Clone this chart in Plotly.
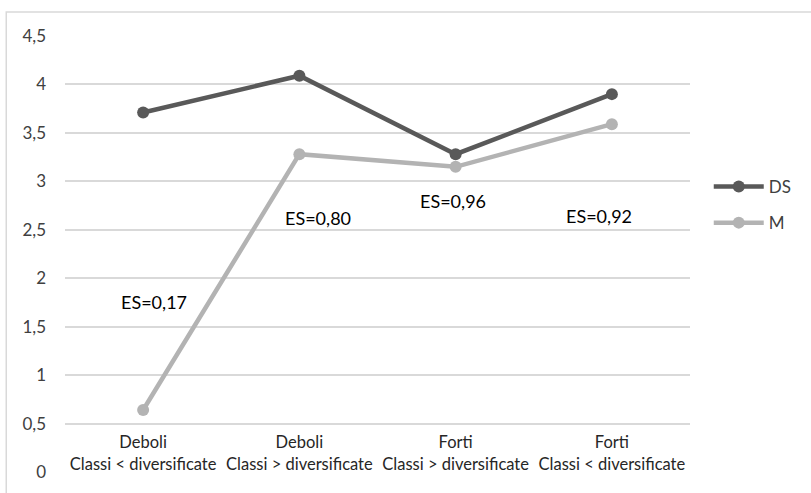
import plotly.graph_objects as go

# Groups (two-line category labels)
group_top = ["Deboli", "Deboli", "Forti", "Forti"]
group_bottom = ["Classi &lt; diversificate", "Classi &gt; diversificate",
                "Classi &gt; diversificate", "Classi &lt; diversificate"]
categories = [f"{a}<br>{b}" for a, b in zip(group_top, group_bottom)]

# Series values
ds_values = [3.71, 4.09, 3.28, 3.90]
m_values = [0.64, 3.28, 3.15, 3.59]

# Effect-size labels and where they sit (category offset, y value)
es_labels = ["ES=0,17", "ES=0,80", "ES=0,96", "ES=0,92"]
es_x = [0.07, 1.12, 1.98, 2.92]
es_y = [1.75, 2.62, 2.80, 2.645]

y_ticks = [0, 0.5, 1, 1.5, 2, 2.5, 3, 3.5, 4, 4.5]

FONT = "Lato"
TXT = "#404040"
GRID = "#d9d9d9"

fig = go.Figure()
fig.add_trace(go.Scatter(
    x=categories, y=ds_values, name="DS", mode="lines+markers", legendgroup="ds",
    line=dict(color="#595959", width=4.5),
    marker=dict(color="#595959", size=12),
))
fig.add_trace(go.Scatter(
    x=categories, y=m_values, name="M", mode="lines+markers", legendgroup="m",
    line=dict(color="#b3b3b3", width=4.5),
    marker=dict(color="#b3b3b3", size=12),
))

for txt, xi, yi in zip(es_labels, es_x, es_y):
    fig.add_annotation(x=xi, y=yi, xref="x", yref="y", text=txt,
                       showarrow=False, font=dict(family=FONT, size=18, color="#000000"))

# Outer chart border
fig.add_shape(type="rect", xref="paper", yref="paper",
              x0=-0.094, x1=1.25, y0=-0.08, y1=1.055,
              line=dict(color=GRID, width=1.5), fillcolor="rgba(0,0,0,0)", layer="below")

fig.update_layout(
    width=811, height=493,
    margin=dict(l=65, r=121, t=36, b=21),
    paper_bgcolor="white", plot_bgcolor="white",
    separators=",.",
    font=dict(family=FONT, size=16, color=TXT),
    showlegend=True,
    legend=dict(x=1.03, y=0.695, xanchor="left", yanchor="top",
                font=dict(family=FONT, size=17, color=TXT),
                bgcolor="rgba(0,0,0,0)", itemwidth=50, tracegroupgap=11),
    xaxis=dict(
        type="category", anchor="free", position=0.5 / 4.5,
        showgrid=False, showline=True, linecolor=GRID, linewidth=1.5,
        ticks="", tickfont=dict(family=FONT, size=16.5, color="#262626"),
        ticklabelstandoff=4, range=[-0.5, 3.5], zeroline=False,
    ),
    yaxis=dict(
        range=[0, 4.5], tickvals=y_ticks, showgrid=True, gridcolor=GRID, gridwidth=1.5,
        zeroline=False, showline=False, ticks="", ticklabelstandoff=18,
        tickfont=dict(family=FONT, size=17, color=TXT),
    ),
)

fig.write_html("out.html")
